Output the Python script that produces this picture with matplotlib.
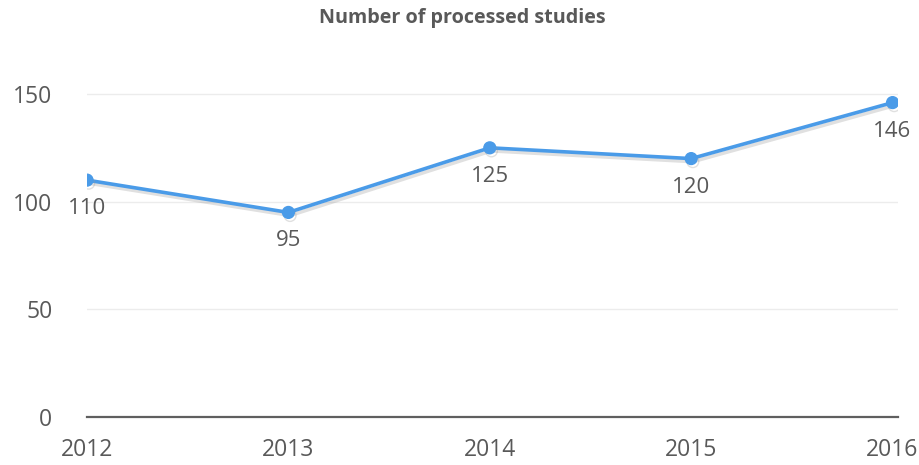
import matplotlib.pyplot as plt
import matplotlib.patheffects as pe

years = ["2012", "2013", "2014", "2015", "2016"]
studies = [110, 95, 125, 120, 146]
y_ticks = [0, 50, 100, 150]

plt.rcParams["font.family"] = ["Open Sans", "DejaVu Sans"]

fig = plt.figure(figsize=(9.19, 4.65), dpi=100)
ax = fig.add_axes([0.0947, 0.1032, 0.882, 0.741])

x = list(range(len(years)))
line_color = "#4a9be8"
text_color = "#595959"

ax.plot(x, studies, color=line_color, lw=2.6, marker="o", ms=8.5,
        zorder=3, solid_capstyle="round",
        path_effects=[pe.SimpleLineShadow(offset=(1.2, -2.2), shadow_color="#999999", alpha=0.3),
                      pe.Normal()])

for xi, v in zip(x, studies):
    ax.annotate(str(v), (xi, v), xytext=(0, -20.5), textcoords="offset points",
                ha="center", va="center", fontsize=16, color=text_color)

ax.set_xlim(0, 4.025)
ax.set_ylim(0, 160)
ax.set_xticks(x)
ax.set_xticklabels(years)
ax.set_yticks(y_ticks)

ax.grid(axis="y", color="#ececec", lw=1)
ax.set_axisbelow(True)
for s in ["top", "right", "left"]:
    ax.spines[s].set_visible(False)
ax.spines["bottom"].set_color("#5f5f5f")
ax.spines["bottom"].set_linewidth(1.6)

ax.tick_params(axis="both", length=0, labelsize=16.5, colors=text_color)
ax.tick_params(axis="y", pad=25)
ax.tick_params(axis="x", pad=15)

fig.text(0.503, 0.962, "Number of processed studies", ha="center", va="center",
         fontsize=14.2, fontweight="bold", color=text_color)

fig.savefig("out.png", dpi=100, facecolor="white")
